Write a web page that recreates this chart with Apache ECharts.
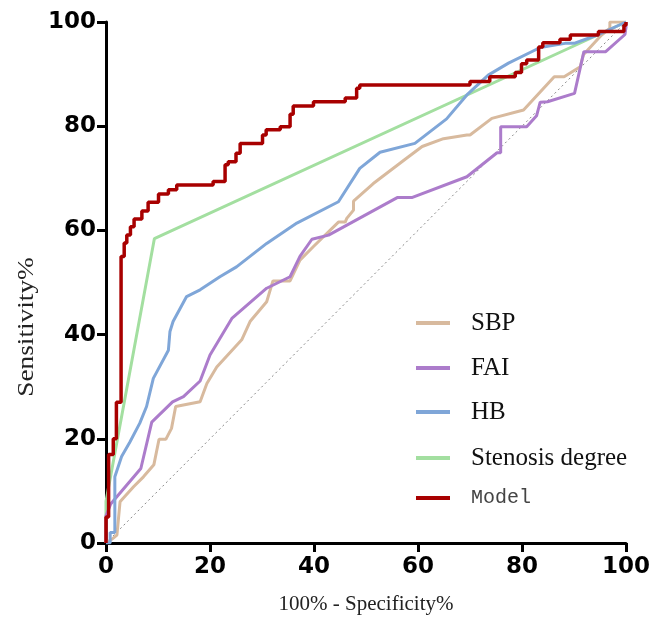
<!DOCTYPE html>
<html>
<head>
<meta charset="utf-8">
<script src="https://cdn.jsdelivr.net/npm/echarts@6/dist/echarts.min.js"></script>
<style>html,body{margin:0;padding:0;background:#fff;}#c{width:649px;height:627px;}</style>
</head>
<body>
<div id="c"></div>
<script>
var seriesNames = ['SBP', 'FAI', 'HB', 'Stenosis degree', 'Model'];
var xTicks = [0, 20, 40, 60, 80, 100];
var yTicks = [0, 20, 40, 60, 80, 100];

var sbp = [[0,0],[1.1,0.7],[2.1,1.5],[2.7,7.9],[3.3,8.6],[5.3,10.8],[7.2,12.7],[9.2,15.0],[10.2,19.9],[11.5,19.9],[12.6,22.0],[13.4,26.2],[18.1,27.1],[19.4,30.6],[21.3,33.8],[26.1,39.0],[27.7,42.5],[30.9,46.3],[32.1,50.3],[35.4,50.3],[37.3,54.3],[39.9,56.9],[44.7,61.6],[46.0,61.6],[46.3,62.3],[47.6,63.9],[47.6,65.6],[51.4,69.0],[57.6,73.7],[60.8,76.1],[64.9,77.6],[69.4,78.3],[70.0,78.3],[74.2,81.5],[80.3,83.1],[86.2,89.5],[88.1,89.5],[91.2,91.4],[91.8,93.7],[95.3,97.5],[96.9,98.8],[96.9,100],[100,100]];

var fai = [[0,0],[0,5.2],[0.9,7.5],[6.7,14.3],[8.8,23.2],[12.8,27.1],[14.9,28.1],[18.1,31.1],[20.0,36.1],[24.2,43.1],[30.9,48.9],[35.4,51.1],[37.3,55.0],[39.6,58.3],[42.8,59.1],[56.0,66.3],[58.8,66.3],[69.4,70.3],[75.2,74.9],[75.9,74.9],[75.9,79.9],[80.9,79.9],[82.8,82.0],[83.5,84.6],[84.9,84.7],[90.1,86.3],[91.9,94.3],[96.1,94.3],[99.8,97.6],[100,99],[100,100]];

var hb = [[0,0],[0.8,0],[0.8,2],[1.7,2],[1.7,12.7],[3.0,16.6],[4.6,19.4],[6.5,23.0],[7.8,26.2],[9.1,31.6],[12.0,37.0],[12.3,40.6],[12.9,42.5],[15.5,47.3],[18.1,48.6],[21.9,51.1],[25.1,53.0],[30.9,57.5],[36.7,61.4],[44.7,65.5],[48.8,71.9],[52.7,75.0],[59.4,76.7],[65.5,81.4],[69.4,86.0],[73.5,89.8],[77.4,92.1],[83.5,95.1],[88.3,95.9],[90,95.9],[94.5,97.5],[100,100]];

var stenosis = [[0,0],[0,8],[9.3,58.4],[100,100]];

var model = [[0,0],[0,5],[0.5,5],[0.5,17],[1.4,17],[1.4,20],[2.0,20],[2.0,27],[2.9,27],[2.9,55],[3.5,55],[3.5,57.6],[4.0,57.6],[4.0,59.1],[4.7,59.1],[4.7,60.7],[5.4,60.7],[5.4,62.2],[6.9,62.2],[6.9,63.7],[8.1,63.7],[8.1,65.4],[10.1,65.4],[10.1,67.0],[12.0,67.0],[12.0,67.8],[13.6,67.8],[13.6,68.7],[20.6,68.7],[20.6,69.4],[22.9,69.4],[22.9,72.6],[23.5,72.6],[23.5,73.2],[25.0,73.2],[25.0,74.8],[25.8,74.8],[25.8,76.7],[30.1,76.7],[30.1,78.3],[30.8,78.3],[30.8,79.3],[33.5,79.3],[33.5,79.9],[35.4,79.9],[35.4,82.3],[36.0,82.3],[36.0,83.9],[39.9,83.9],[39.9,84.7],[46.0,84.7],[46.0,85.4],[48.2,85.4],[48.2,87.3],[48.8,87.3],[48.8,87.9],[70.0,87.9],[70.0,88.6],[73.8,88.6],[73.8,89.5],[78.7,89.5],[78.7,90.3],[79.9,90.3],[79.9,92.0],[80.9,92.0],[80.9,92.7],[83.2,92.7],[83.2,95.2],[84.0,95.2],[84.0,96.0],[87.3,96.0],[87.3,96.7],[89.3,96.7],[89.3,97.5],[94.7,97.5],[94.7,98.2],[99.6,98.2],[99.6,99.4],[100,99.4],[100,100]];

var reference = [[0,0],[100,100]];

var colors = {
  'SBP': '#D8BA9E',
  'FAI': '#AC7CCB',
  'HB': '#7FA6D8',
  'Stenosis degree': '#A3DFA0',
  'Model': '#A80000'
};

var chart = echarts.init(document.getElementById('c'), null, {renderer: 'canvas'});

function axisCommon() {
  return {
    type: 'value', min: 0, max: 100, interval: 20,
    axisLine: {show: true, onZero: false, lineStyle: {color: '#000', width: 3}},
    axisTick: {show: true, length: 9, lineStyle: {color: '#000', width: 3}},
    splitLine: {show: false},
    axisLabel: {color: '#000', fontFamily: 'DejaVu Sans', fontWeight: 'bold', fontSize: 23}
  };
}

var xAxis = axisCommon();
xAxis.name = '100% - Specificity%';
xAxis.nameLocation = 'middle';
xAxis.nameGap = 51;
xAxis.nameTextStyle = {fontFamily: 'Liberation Serif', fontSize: 21, color: '#222'};
xAxis.axisLabel.margin = 13;

var yAxis = axisCommon();
yAxis.axisLabel.margin = 10;

function lineSeries(name, data, z) {
  return {
    name: name, type: 'line', data: data, showSymbol: false, symbol: 'none',
    smooth: false, z: z, animation: false,
    lineStyle: {color: colors[name], width: name === 'Model' ? 3.5 : 3},
    itemStyle: {color: colors[name]}
  };
}

var legendTops = [318, 363, 407, 453, 493];
var legends = seriesNames.map(function (n, i) {
  return {
    data: [n], orient: 'vertical', left: 411, top: legendTops[i] - 13,
    icon: 'rect', itemWidth: 34, itemHeight: 4,
    selectedMode: false,
    textStyle: {
      fontFamily: n === 'Model' ? 'Liberation Mono' : 'Liberation Serif',
      fontSize: n === 'Model' ? 20 : 25,
      color: n === 'Model' ? '#444' : '#111',
      lineHeight: 26,
      padding: [0, 0, 0, 16]
    }
  };
});

chart.setOption({
  animation: false,
  backgroundColor: '#fff',
  grid: {left: 106, right: 23, top: 22, bottom: 84, containLabel: false, outerBoundsMode: 'none'},
  xAxis: xAxis,
  yAxis: yAxis,
  legend: legends,
  graphic: [{
    type: 'text', x: 27, y: 327, rotation: Math.PI / 2, scaleX: 1.3, scaleY: 1.1,
    style: {text: 'Sensitivity%', font: '21px "Liberation Serif"', fill: '#222',
      textAlign: 'center', textVerticalAlign: 'middle'}
  }],
  series: [
    {
      name: 'ref', type: 'line', data: reference, showSymbol: false, symbol: 'none', z: 1,
      lineStyle: {color: '#888', width: 1, type: [2, 3]}
    },
    lineSeries('Stenosis degree', stenosis, 2),
    lineSeries('SBP', sbp, 3),
    lineSeries('FAI', fai, 4),
    lineSeries('HB', hb, 5),
    lineSeries('Model', model, 6)
  ]
});
</script>
</body>
</html>
